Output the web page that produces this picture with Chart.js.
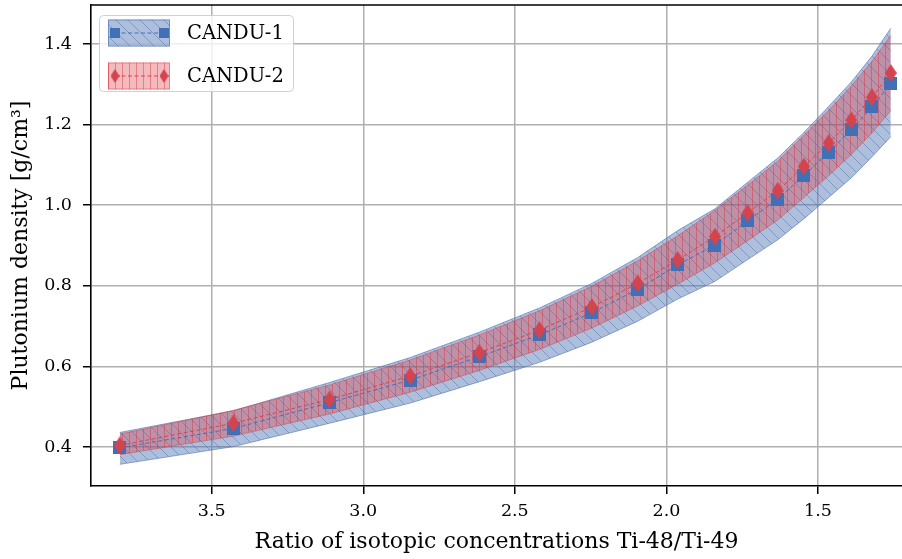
<!DOCTYPE html>
<html>
<head>
<meta charset="utf-8">
<script src="https://cdn.jsdelivr.net/npm/chart.js@4.4.1/dist/chart.umd.min.js"></script>
<style>
  html, body { margin: 0; padding: 0; background: #fff; }
  #wrap { width: 902px; height: 559px; position: relative; }
</style>
</head>
<body>
<div id="wrap"><canvas id="chart"></canvas></div>
<script>
// Ti-48/Ti-49 ratio for each sample
var ratios = [3.803, 3.428, 3.111, 2.845, 2.617, 2.419, 2.246, 2.095, 1.963, 1.840, 1.732, 1.633, 1.547, 1.465, 1.390, 1.322, 1.260];

// CANDU-1 plutonium density and its uncertainty band
var candu1      = [0.398, 0.446, 0.510, 0.566, 0.624, 0.678, 0.733, 0.791, 0.852, 0.901, 0.961, 1.015, 1.073, 1.132, 1.187, 1.244, 1.301];
var candu1Upper = [0.436, 0.490, 0.560, 0.622, 0.685, 0.745, 0.806, 0.870, 0.937, 0.991, 1.057, 1.117, 1.180, 1.245, 1.306, 1.370, 1.439];
var candu1Lower = [0.357, 0.401, 0.459, 0.509, 0.562, 0.610, 0.660, 0.712, 0.767, 0.811, 0.865, 0.914, 0.966, 1.019, 1.068, 1.120, 1.170];

// CANDU-2 plutonium density and its uncertainty band
var candu2      = [0.404, 0.459, 0.518, 0.576, 0.634, 0.690, 0.747, 0.806, 0.864, 0.922, 0.981, 1.036, 1.096, 1.154, 1.211, 1.268, 1.328];
var candu2Upper = [0.432, 0.491, 0.554, 0.616, 0.678, 0.738, 0.799, 0.862, 0.924, 0.987, 1.050, 1.109, 1.173, 1.235, 1.296, 1.357, 1.421];
var candu2Lower = [0.381, 0.427, 0.482, 0.536, 0.590, 0.642, 0.695, 0.750, 0.804, 0.857, 0.912, 0.963, 1.019, 1.073, 1.126, 1.179, 1.235];

var seriesNames = ['CANDU-1', 'CANDU-2'];
var xTicks = [3.5, 3.0, 2.5, 2.0, 1.5];
var yTicks = [0.4, 0.6, 0.8, 1.0, 1.2, 1.4];

var BLUE = '#4170b6';
var RED = '#d4444f';
var SERIF = '"DejaVu Serif", serif';

var canvas = document.getElementById('chart');
var mainCtx = canvas.getContext('2d');

// hatched fill like matplotlib's fill_between(hatch=...)
function hatch(fill, line, size, kind) {
    var c = document.createElement('canvas');
    c.width = size; c.height = size;
    var g = c.getContext('2d');
    g.fillStyle = fill;
    g.fillRect(0, 0, size, size);
    g.strokeStyle = line;
    g.lineWidth = 1;
    g.beginPath();
    if (kind === 'diag') {
        g.moveTo(-1, -1); g.lineTo(size + 1, size + 1);
        g.moveTo(-1, size - 1); g.lineTo(1, size + 1);
        g.moveTo(size - 1, -1); g.lineTo(size + 1, 1);
    } else {
        g.moveTo(Math.floor(size / 2) + 0.5, 0); g.lineTo(Math.floor(size / 2) + 0.5, size);
    }
    g.stroke();
    return mainCtx.createPattern(c, 'repeat');
}

function squareMarker(color, side) {
    var c = document.createElement('canvas');
    c.width = side; c.height = side;
    var g = c.getContext('2d');
    g.fillStyle = color;
    g.fillRect(0, 0, side, side);
    return c;
}

function diamondMarker(color, w, h) {
    var c = document.createElement('canvas');
    c.width = w; c.height = h;
    var g = c.getContext('2d');
    g.fillStyle = color;
    g.beginPath();
    g.moveTo(w / 2, 0); g.lineTo(w, h / 2); g.lineTo(w / 2, h); g.lineTo(0, h / 2);
    g.closePath();
    g.fill();
    return c;
}

var bluePattern = hatch('rgba(76,114,176,0.45)', 'rgba(70,105,175,0.45)', 12, 'diag');
var redPattern = hatch('rgba(220,55,65,0.34)', 'rgba(215,50,60,0.45)', 7, 'vert');
var blueEdge = 'rgba(76,114,176,0.6)';
var redEdge = 'rgba(215,55,65,0.45)';

var sq = squareMarker(BLUE, 13);
var dm = diamondMarker(RED, 12, 18);
var sqSmall = squareMarker(BLUE, 10);
var dmSmall = diamondMarker(RED, 9, 14);

function pts(ys) {
    return ratios.map(function (x, i) { return { x: x, y: ys[i] }; });
}

var legendEntries = [
    { label: seriesNames[0], fill: bluePattern, edge: blueEdge, color: BLUE, marker: sqSmall },
    { label: seriesNames[1], fill: redPattern, edge: redEdge, color: RED, marker: dmSmall }
];

// top spine + matplotlib-like legend box
var framePlugin = {
    id: 'frameAndLegend',
    afterDraw: function (chart) {
        var ctx = chart.ctx, a = chart.chartArea;
        ctx.save();
        ctx.strokeStyle = '#000';
        ctx.lineWidth = 1.6;
        ctx.beginPath();
        ctx.moveTo(a.left, a.top);
        ctx.lineTo(a.right, a.top);
        ctx.stroke();

        ctx.beginPath();
        ctx.roundRect(99.5, 15.5, 194, 76, 4);
        ctx.fillStyle = 'rgba(255,255,255,0.8)';
        ctx.fill();
        ctx.strokeStyle = 'rgba(204,204,204,0.9)';
        ctx.lineWidth = 1;
        ctx.stroke();

        legendEntries.forEach(function (e, i) {
            var y = 19.5 + i * 43;
            var cy = y + 13.5;
            ctx.fillStyle = e.fill;
            ctx.fillRect(108, y, 62, 27);
            ctx.strokeStyle = e.edge;
            ctx.lineWidth = 1;
            ctx.strokeRect(108.5, y + 0.5, 61, 26);
            ctx.setLineDash([4, 2.5]);
            ctx.strokeStyle = e.color;
            ctx.beginPath();
            ctx.moveTo(115, cy);
            ctx.lineTo(164, cy);
            ctx.stroke();
            ctx.setLineDash([]);
            ctx.drawImage(e.marker, 115 - e.marker.width / 2, cy - e.marker.height / 2);
            ctx.drawImage(e.marker, 164 - e.marker.width / 2, cy - e.marker.height / 2);
            ctx.fillStyle = '#000';
            ctx.font = '19.5px ' + SERIF;
            ctx.textBaseline = 'middle';
            ctx.textAlign = 'left';
            ctx.fillText(e.label, 187, cy + 1);
        });
        ctx.restore();
    }
};

new Chart(canvas, {
    type: 'line',
    data: {
        datasets: [
            { data: pts(candu1Upper), fill: '+1', backgroundColor: bluePattern, borderColor: blueEdge, borderWidth: 1, pointRadius: 0, order: 10 },
            { data: pts(candu1Lower), fill: false, borderColor: blueEdge, borderWidth: 1, pointRadius: 0, order: 10 },
            { data: pts(candu2Upper), fill: '+1', backgroundColor: redPattern, borderColor: redEdge, borderWidth: 1, pointRadius: 0, order: 9 },
            { data: pts(candu2Lower), fill: false, borderColor: redEdge, borderWidth: 1, pointRadius: 0, order: 9 },
            { label: seriesNames[0], data: pts(candu1), fill: false, borderColor: BLUE, borderWidth: 1, borderDash: [4, 2.5], pointStyle: sq, pointRadius: 6, order: 2 },
            { label: seriesNames[1], data: pts(candu2), fill: false, borderColor: RED, borderWidth: 1, borderDash: [4, 2.5], pointStyle: dm, pointRadius: 6, order: 1 }
        ]
    },
    options: {
        responsive: true,
        maintainAspectRatio: false,
        animation: false,
        events: [],
        layout: { autoPadding: false, padding: { top: 5, right: 0, left: 0, bottom: 0 } },
        plugins: {
            legend: { display: false },
            tooltip: { enabled: false }
        },
        scales: {
            x: {
                type: 'linear',
                reverse: true,
                min: 1.223,
                max: 3.898,
                afterBuildTicks: function (s) { s.ticks = xTicks.map(function (v) { return { value: v }; }); },
                afterFit: function (s) { s.height = 73; s.paddingLeft = 0; s.paddingRight = 0; },
                grid: { color: '#b0b0b0', lineWidth: 1.5, tickColor: '#000', tickLength: 8, tickWidth: 1.5 },
                border: { color: '#000', width: 1.6 },
                ticks: {
                    color: '#000',
                    padding: 7,
                    maxRotation: 0,
                    font: { family: SERIF, size: 17.5 },
                    callback: function (v) { return v.toFixed(1); }
                },
                title: {
                    display: true,
                    text: 'Ratio of isotopic concentrations Ti-48/Ti-49',
                    color: '#000',
                    font: { family: SERIF, size: 22 },
                    padding: { top: 0, bottom: 4 }
                }
            },
            y: {
                type: 'linear',
                min: 0.3032,
                max: 1.4968,
                afterBuildTicks: function (s) { s.ticks = yTicks.map(function (v) { return { value: v }; }); },
                afterFit: function (s) { s.width = 91; s.paddingTop = 0; s.paddingBottom = 0; },
                grid: { color: '#b0b0b0', lineWidth: 1.5, tickColor: '#000', tickLength: 8, tickWidth: 1.5 },
                border: { color: '#000', width: 1.6 },
                ticks: {
                    color: '#000',
                    padding: 11,
                    font: { family: SERIF, size: 17.5 },
                    callback: function (v) { return v.toFixed(1); }
                },
                title: {
                    display: true,
                    text: 'Plutonium density [g/cm³]',
                    color: '#000',
                    font: { family: SERIF, size: 22 },
                    padding: { top: 8, bottom: 0 }
                }
            }
        }
    },
    plugins: [framePlugin]
});
</script>
</body>
</html>
